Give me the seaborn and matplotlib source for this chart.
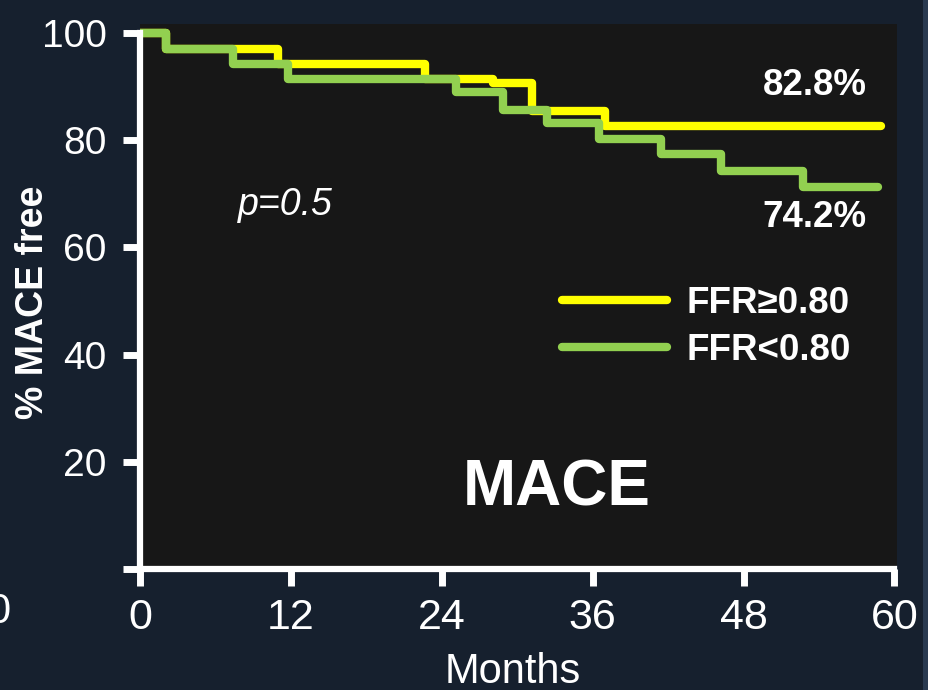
import seaborn as sns
import matplotlib.pyplot as plt
import matplotlib.patches as mpatches
import pandas as pd

# Kaplan-Meier style survival steps
months_hi = [0, 2.1, 11.0, 22.7, 28.1, 31.2, 37.0, 58.9]
surv_hi = [100, 97.0, 94.3, 91.5, 90.7, 85.5, 82.6, 82.6]
months_lo = [0, 2.1, 7.4, 11.8, 25.1, 28.9, 32.4, 36.5, 41.4, 46.2, 52.7, 58.7]
surv_lo = [100, 97.0, 94.3, 91.4, 89.0, 85.6, 83.2, 80.2, 77.4, 74.3, 71.3, 71.3]
groups = ['FFR≥0.80', 'FFR<0.80']
colors = ['#ffff00', '#92d050']
x_ticks = [0, 12, 24, 36, 48, 60]
y_ticks = [0, 20, 40, 60, 80, 100]

df = pd.concat([
    pd.DataFrame({'Months': months_hi, 'surv': surv_hi, 'group': groups[0]}),
    pd.DataFrame({'Months': months_lo, 'surv': surv_lo, 'group': groups[1]}),
])

sns.set_theme(style='ticks')
plt.rcParams['font.family'] = ['Liberation Sans', 'DejaVu Sans']

bg = '#16202e'
fig = plt.figure(figsize=(9.29, 6.9), dpi=100, facecolor=bg)
ax = fig.add_axes([140 / 929, 1 - 569 / 690, 757 / 929, 545 / 690])
ax.set_facecolor('#171717')

sns.lineplot(data=df, x='Months', y='surv', hue='group', hue_order=groups,
             palette=colors, drawstyle='steps-post', linewidth=6,
             solid_joinstyle='round', solid_capstyle='round',
             legend=False, ax=ax)

ax.set_xlim(0, 60.2)
ax.set_ylim(0, 101.7)
ax.set_xticks(x_ticks)
ax.set_yticks(y_ticks[1:])
ax.set_yticks([0], minor=True)
ax.tick_params(axis='y', which='minor', length=12, width=5, color='white', direction='out')

for side in ['top', 'right']:
    ax.spines[side].set_visible(False)
for side in ['left', 'bottom']:
    ax.spines[side].set_color('white')
    ax.spines[side].set_linewidth(4.5)
ax.spines['left'].set_bounds(0, 100)
ax.spines['bottom'].set_bounds(0, 60)

ax.tick_params(axis='both', colors='white', length=12, width=5, direction='out')
ax.tick_params(axis='x', labelsize=31, pad=9)
ax.tick_params(axis='y', labelsize=28, pad=12)

ax.set_xlabel('Months', color='white', fontsize=30)
ax.xaxis.set_label_coords(0.493, -0.152)
ax.set_ylabel('% MACE free', color='white', fontsize=27, fontweight='bold', va='center')
ax.yaxis.set_label_coords(-0.141, 0.49)

ax.text(57.8, 90.2, '82.8%', color='white', fontsize=26.5, fontweight='bold',
        ha='right', va='center')
ax.text(57.8, 65.5, '74.2%', color='white', fontsize=26.5, fontweight='bold',
        ha='right', va='center')
ax.text(7.8, 67.9, 'p=0.5', color='white', fontsize=27, style='italic',
        ha='left', va='center')
ax.text(33.1, 15.1, 'MACE', color='white', fontsize=46, fontweight='bold',
        ha='center', va='center')

handles = ax.get_lines()[:2]
leg = ax.legend(handles, groups, loc='upper left', bbox_to_anchor=(0.557, 0.52),
                frameon=False, borderpad=0, borderaxespad=0, handlelength=2.85,
                handletextpad=0.55, labelspacing=0.34,
                prop={'size': 26.5, 'weight': 'bold'})
for txt in leg.get_texts():
    txt.set_color('white')
for h in leg.legend_handles:
    h.set_linewidth(6)

# cut-off label of the neighbouring slide element and the slide edge
fig.text(-1 / 929, 1 - 612 / 690, '0', color='white', fontsize=30,
         ha='center', va='center')
fig.patches.append(mpatches.Rectangle((923 / 929, 0), 6 / 929, 1, transform=fig.transFigure,
                                      facecolor='#2a3a50', edgecolor='none', zorder=0))

fig.savefig('out.png', dpi=100, facecolor=bg)
